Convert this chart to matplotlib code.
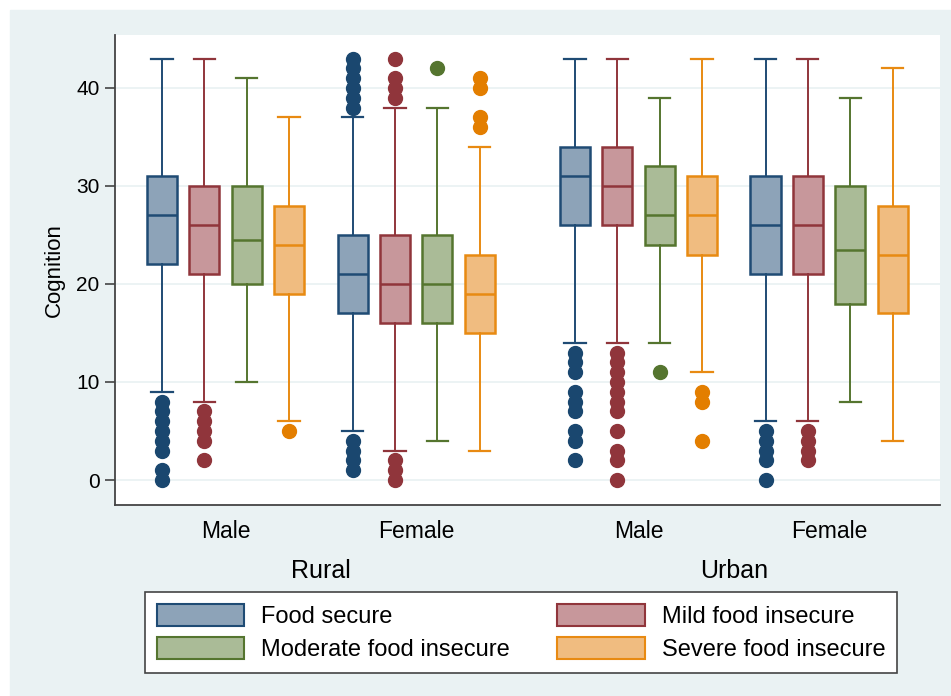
import matplotlib
matplotlib.use("Agg")
import matplotlib.pyplot as plt
import matplotlib.transforms as mtransforms
from matplotlib.patches import Patch, Rectangle

# values (Stata style box plot)
categories = ["Food secure", "Mild food insecure",
              "Moderate food insecure", "Severe food insecure"]
areas = ["Rural", "Urban"]
sexes = ["Male", "Female", "Male", "Female"]

medians = [[27, 26, 24.5, 24], [21, 20, 20, 19],
           [31, 30, 27, 27], [26, 26, 23.5, 23]]
q1 = [[22, 21, 20, 19], [17, 16, 16, 15],
      [26, 26, 24, 23], [21, 21, 18, 17]]
q3 = [[31, 30, 30, 28], [25, 25, 25, 23],
      [34, 34, 32, 31], [31, 31, 30, 28]]
whisk_lo = [[9, 8, 10, 6], [5, 3, 4, 3],
            [14, 14, 14, 11], [6, 6, 8, 4]]
whisk_hi = [[43, 43, 41, 37], [37, 38, 38, 34],
            [43, 43, 39, 43], [43, 43, 39, 42]]
outliers = [
    [[8, 7, 6, 5, 4, 3, 1, 0], [7, 6, 5, 4, 2], [], [5]],
    [[43, 42, 41, 40, 39, 38, 4, 3, 2, 1], [43, 41, 40, 39, 2, 1, 0],
     [42], [41, 40, 37, 36]],
    [[13, 12, 11, 9, 8, 7, 5, 4, 2],
     [13, 12, 11, 10, 9, 8, 7, 5, 3, 2, 0], [11], [9, 8, 4]],
    [[5, 4, 3, 2, 0], [5, 4, 3, 2], [], []],
]

edge_colors = ["#1F4B74", "#90353B", "#55752F", "#E88A12"]
dot_colors = ["#1A476F", "#90353B", "#55752F", "#E37E00"]
fill_colors = ["#8DA3B8", "#C7979B", "#AABB97", "#F0BC80"]
panel = "#EAF2F3"

plt.rcParams["font.family"] = ["Liberation Sans", "DejaVu Sans"]

fig = plt.figure(figsize=(9.51, 6.96), dpi=100)
fig.patches.append(Rectangle((10 / 951, 0), 1, 1 - 10 / 696,
                             transform=fig.transFigure, color=panel, zorder=-10))
ax = fig.add_axes([115 / 951, 1 - 505 / 696, 825 / 951, 470 / 696])
ax.set_zorder(2)
ax.set_facecolor("white")

group_starts = [0, 4.5, 9.75, 14.25]
for g in range(4):
    for c in range(4):
        stats = dict(med=medians[g][c], q1=q1[g][c], q3=q3[g][c],
                     whislo=whisk_lo[g][c], whishi=whisk_hi[g][c],
                     fliers=outliers[g][c])
        ec = edge_colors[c]
        ax.bxp([stats], positions=[group_starts[g] + c], widths=0.71,
               capwidths=0.5, patch_artist=True, manage_ticks=False,
               boxprops=dict(facecolor=fill_colors[c], edgecolor=ec, linewidth=1.8),
               whiskerprops=dict(color=ec, linewidth=1.4),
               capprops=dict(color=ec, linewidth=1.6),
               medianprops=dict(color=ec, linewidth=1.8),
               flierprops=dict(marker="o", markerfacecolor=dot_colors[c],
                               markeredgecolor=dot_colors[c], markersize=10))

ax.set_xlim(-1.11, 18.37)
ax.set_ylim(-2.55, 45.4)
ax.set_yticks([0, 10, 20, 30, 40])
ax.yaxis.grid(True, color=panel, linewidth=1.3)
ax.set_axisbelow(True)
ax.tick_params(axis="y", labelsize=15, length=7, width=1.2, color="#444444", pad=4)
ax.set_ylabel("Cognition", fontsize=16, labelpad=8)

centers = [s + 1.5 for s in group_starts]
ax.set_xticks(centers)
ax.set_xticklabels(sexes, fontsize=16.5)
ax.tick_params(axis="x", length=0, pad=11)

for s in ["top", "right"]:
    ax.spines[s].set_visible(False)
for s in ["left", "bottom"]:
    ax.spines[s].set_color("#444444")
    ax.spines[s].set_linewidth(1.3)

trans = mtransforms.blended_transform_factory(ax.transData, ax.transAxes)
for i, area in enumerate(areas):
    xc = (centers[2 * i] + centers[2 * i + 1]) / 2
    ax.text(xc, -0.14, area, transform=trans, ha="center", va="center",
            fontsize=18)

handles = [Patch(facecolor=fill_colors[c], edgecolor=edge_colors[c], linewidth=1.5)
           for c in [0, 2, 1, 3]]
labels = [categories[c] for c in [0, 2, 1, 3]]
leg = fig.legend(handles, labels, ncol=2, loc="upper left",
                 bbox_to_anchor=(145 / 951, 1 - 592 / 696),
                 borderaxespad=0, fontsize=17,
                 handlelength=3.7, handleheight=1.05, handletextpad=0.72,
                 borderpad=0.5, labelspacing=0.4, columnspacing=2.0,
                 fancybox=False, edgecolor="#444444", framealpha=1)
leg.get_frame().set_linewidth(1.2)

fig.savefig("out.png", dpi=100, facecolor="white")
